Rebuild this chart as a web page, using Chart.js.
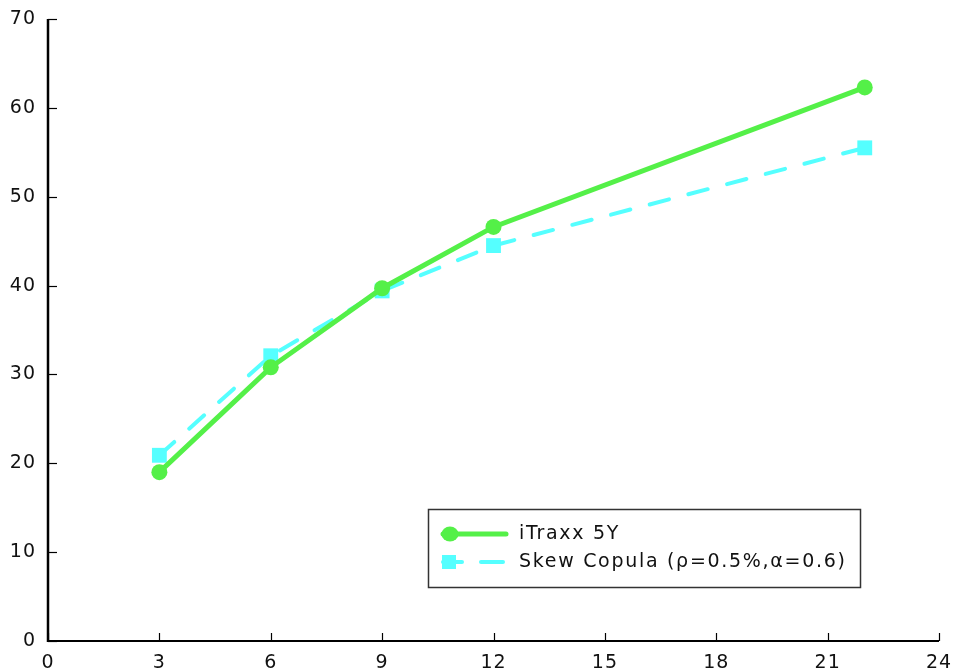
<!DOCTYPE html>
<html><head><meta charset="utf-8">
<script src="https://cdn.jsdelivr.net/npm/chart.js@4"></script>
<style>html,body{margin:0;padding:0;background:#fff}</style>
</head><body>
<canvas id="c" width="957" height="672"></canvas>
<script>
const xValues = [3, 6, 9, 12, 22];
const itraxx = [19.0, 30.8, 39.7, 46.6, 62.3];
const skewCopula = [20.9, 32.1, 39.4, 44.5, 55.5];
const seriesNames = ['iTraxx 5Y', 'Skew Copula (\u03C1=0.5%,\u03B1=0.6)'];
const xTickValues = [0, 3, 6, 9, 12, 15, 18, 21, 24];
const yTickValues = [0, 10, 20, 30, 40, 50, 60, 70];

const GREEN = 'rgb(84,240,72)';
const CYAN = 'rgb(85,255,255)';
const FONT = 'DejaVu Sans';

const spacingPlugin = {
  id: 'spacing',
  beforeDraw(chart) { try { chart.ctx.letterSpacing = '1px'; } catch (e) {} }
};

const axesPlugin = {
  id: 'axesPlugin',
  beforeDatasetsDraw(chart) {
    const {ctx, chartArea: a, scales: {x, y}} = chart;
    ctx.save();
    ctx.strokeStyle = '#000';
    ctx.lineWidth = 2.5;
    ctx.beginPath();
    ctx.moveTo(a.left, a.top); ctx.lineTo(a.left, a.bottom + 1);
    ctx.stroke();
    ctx.lineWidth = 2;
    ctx.beginPath();
    ctx.moveTo(a.left - 1, a.bottom); ctx.lineTo(a.right, a.bottom);
    ctx.stroke();
    ctx.lineWidth = 1.2;
    yTickValues.forEach(v => {
      const py = Math.round(y.getPixelForValue(v)) + 0.5;
      ctx.beginPath(); ctx.moveTo(a.left, py); ctx.lineTo(a.left + 9, py); ctx.stroke();
    });
    xTickValues.forEach(v => {
      const px = Math.round(x.getPixelForValue(v)) + 0.5;
      ctx.beginPath(); ctx.moveTo(px, a.bottom); ctx.lineTo(px, a.bottom - 8); ctx.stroke();
    });
    ctx.restore();
  }
};

const legendPlugin = {
  id: 'boxLegend',
  afterDraw(chart) {
    const ctx = chart.ctx;
    ctx.save();
    const bx = 428, by = 509, bw = 432, bh = 78;
    ctx.strokeStyle = '#333';
    ctx.lineWidth = 1.5;
    ctx.strokeRect(bx + 0.5, by + 0.5, bw, bh);
    const r1 = 534, r2 = 562;
    ctx.strokeStyle = GREEN; ctx.lineWidth = 5; ctx.lineCap = 'round';
    ctx.beginPath(); ctx.moveTo(443, r1); ctx.lineTo(506, r1); ctx.stroke();
    ctx.fillStyle = GREEN;
    ctx.beginPath(); ctx.ellipse(450, r1, 8.5, 7.5, 0, 0, Math.PI * 2); ctx.fill();
    ctx.strokeStyle = CYAN; ctx.lineWidth = 4; ctx.lineCap = 'round';
    ctx.beginPath(); ctx.moveTo(443, r2); ctx.lineTo(462, r2); ctx.stroke();
    ctx.beginPath(); ctx.moveTo(481, r2); ctx.lineTo(503, r2); ctx.stroke();
    ctx.fillStyle = CYAN;
    ctx.fillRect(442, r2 - 7, 14, 14);
    ctx.fillStyle = '#111';
    ctx.font = '19px "' + FONT + '"';
    ctx.textBaseline = 'middle';
    ctx.textAlign = 'left';
    try { ctx.letterSpacing = '1.7px'; } catch (e) {}
    ctx.fillText(seriesNames[0], 519, r1);
    ctx.fillText(seriesNames[1], 519, r2);
    ctx.restore();
  }
};

new Chart(document.getElementById('c'), {
  type: 'scatter',
  data: {
    datasets: [
      {
        label: seriesNames[0],
        data: xValues.map((v, i) => ({x: v, y: itraxx[i]})),
        showLine: true,
        borderColor: GREEN,
        backgroundColor: GREEN,
        borderWidth: 5,
        pointStyle: 'circle',
        pointRadius: 8,
        pointBorderWidth: 0,
        borderCapStyle: 'round',
        tension: 0
      },
      {
        label: seriesNames[1],
        data: xValues.map((v, i) => ({x: v, y: skewCopula[i]})),
        showLine: true,
        borderColor: CYAN,
        backgroundColor: CYAN,
        borderWidth: 4,
        borderDash: [20, 20],
        borderCapStyle: 'round',
        pointStyle: 'rect',
        pointRadius: 10.5,
        pointBorderWidth: 0,
        tension: 0
      }
    ]
  },
  options: {
    responsive: false,
    animation: false,
    layout: {padding: {top: 19, right: 18, left: 0, bottom: 0}},
    plugins: {legend: {display: false}, tooltip: {enabled: false}},
    scales: {
      x: {
        type: 'linear', min: 0, max: 24,
        afterBuildTicks: s => { s.ticks = xTickValues.map(v => ({value: v})); },
        afterFit: s => { s.height = 31; s.paddingLeft = 0; s.paddingRight = 0; },
        grid: {display: false, drawTicks: false},
        border: {display: false},
        ticks: {color: '#111', font: {family: FONT, size: 19}, padding: 11, maxRotation: 0}
      },
      y: {
        type: 'linear', min: 0, max: 70,
        afterBuildTicks: s => { s.ticks = yTickValues.map(v => ({value: v})); },
        afterFit: s => { s.width = 48; s.paddingTop = 0; s.paddingBottom = 0; },
        grid: {display: false, drawTicks: false},
        border: {display: false},
        ticks: {color: '#111', font: {family: FONT, size: 19}, padding: 12}
      }
    }
  },
  plugins: [spacingPlugin, axesPlugin, legendPlugin]
});
</script>
</body></html>
